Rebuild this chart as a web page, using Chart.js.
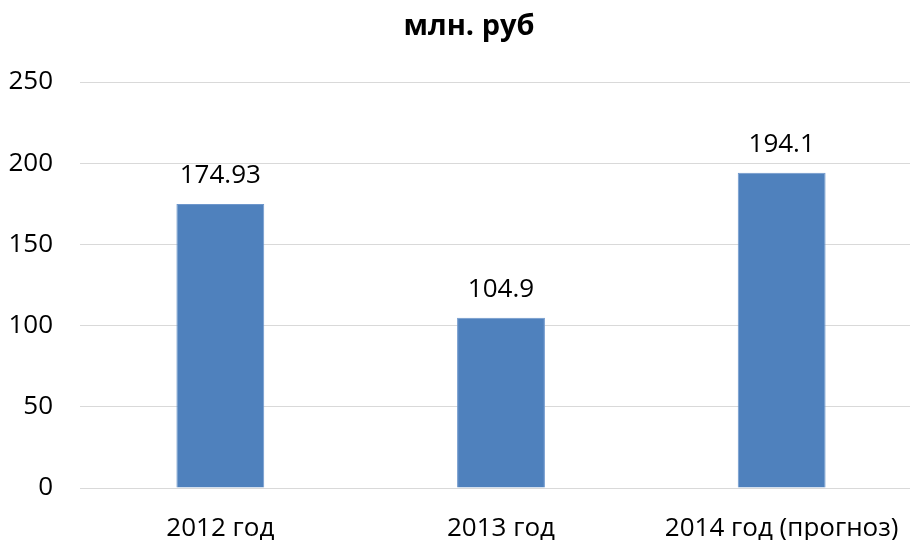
<!DOCTYPE html>
<html>
<head>
<meta charset="utf-8">
<script src="https://cdn.jsdelivr.net/npm/chart.js@4/dist/chart.umd.min.js"></script>
<style>
html,body{margin:0;padding:0;width:910px;height:540px;overflow:hidden;background:#fff;}
#wrap{position:absolute;left:0;top:0;width:938px;height:540px;}
</style>
</head>
<body>
<div id="wrap"><canvas id="c" width="938" height="540"></canvas></div>
<script>
const categories = ['2012 год', '2013 год', '2014 год (прогноз)'];
const values = [174.93, 104.9, 194.1];
const valueLabels = ['174.93', '104.9', '194.1'];
const titleText = 'млн. руб';

const FONT = "'Open Sans', 'DejaVu Sans', sans-serif";

const dataLabels = {
  id: 'dataLabels',
  afterDatasetsDraw(chart) {
    const ctx = chart.ctx;
    const meta = chart.getDatasetMeta(0);
    ctx.save();
    ctx.font = '26px ' + FONT;
    ctx.fillStyle = '#000';
    ctx.textAlign = 'center';
    ctx.textBaseline = 'middle';
    meta.data.forEach((bar, i) => {
      ctx.fillText(valueLabels[i], bar.x, bar.y - 28);
    });
    // chart title, centred on the full (uncropped) chart width
    ctx.font = 'bold 29px ' + FONT;
    ctx.textBaseline = 'middle';
    ctx.fillText(titleText, chart.width / 2, 27);
    ctx.restore();
  }
};

new Chart(document.getElementById('c'), {
  type: 'bar',
  data: {
    labels: categories,
    datasets: [{
      data: values,
      backgroundColor: '#4f81bd',
      borderColor: '#6e97cc',
      borderWidth: 1,
      categoryPercentage: 1,
      barPercentage: 0.313
    }]
  },
  options: {
    responsive: false,
    animation: false,
    layout: { padding: { left: 0, right: 16, top: 82, bottom: 0 } },
    plugins: {
      legend: { display: false },
      tooltip: { enabled: false },
      title: { display: false }
    },
    scales: {
      x: {
        grid: { display: false, drawTicks: false },
        border: { display: true, color: '#d9d9d9', width: 1 },
        ticks: { color: '#000', font: { family: FONT, size: 26 }, padding: 25, maxRotation: 0, autoSkip: false },
        afterFit(s) { s.height = 52; }
      },
      y: {
        min: 0, max: 250,
        grid: { color: '#d9d9d9', lineWidth: 1, drawTicks: false },
        border: { display: false },
        ticks: { stepSize: 50, color: '#000', font: { family: FONT, size: 26 }, padding: 27 },
        afterFit(s) { s.width = 80; }
      }
    }
  },
  plugins: [dataLabels]
});
</script>
</body>
</html>
